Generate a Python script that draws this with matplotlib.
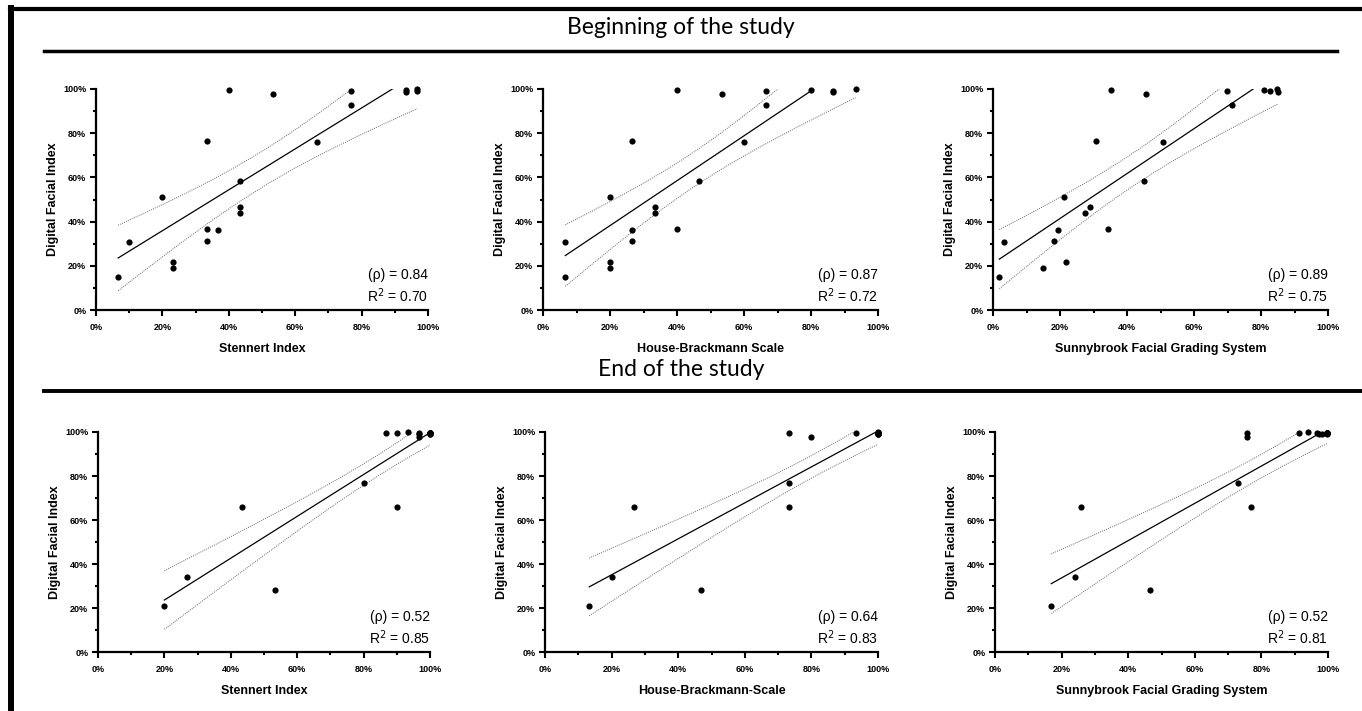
import numpy as np
import matplotlib
matplotlib.use("Agg")
import matplotlib.pyplot as plt
from matplotlib.ticker import MultipleLocator, FuncFormatter
from matplotlib.lines import Line2D
from matplotlib.font_manager import FontProperties

# ---------------- data ----------------
# Beginning of the study (21 patients)
dfi_begin = [15.1, 30.9, 51.1, 21.9, 19.2, 76.5, 36.8, 31.1, 36.3, 99.5, 58.4,
             46.5, 43.7, 97.9, 76.2, 99.2, 92.9, 99.5, 98.5, 99.8, 99.3]
stennert_begin = [6.67, 10.0, 20.0, 23.3, 23.3, 33.3, 33.3, 33.3, 36.7, 40.0, 43.3,
                  43.3, 43.3, 53.3, 66.7, 76.7, 76.7, 93.3, 93.3, 96.7, 96.7]
hb_begin = [6.67, 6.67, 20.0, 20.0, 20.0, 26.7, 40.0, 26.7, 26.7, 40.0, 46.7,
            33.3, 33.3, 53.3, 60.0, 66.7, 66.7, 80.0, 86.7, 93.3, 86.7]
sb_begin = [1.9, 3.2, 21.1, 21.8, 14.9, 30.7, 34.4, 18.2, 19.4, 35.3, 45.0,
            29.1, 27.4, 45.7, 50.7, 69.9, 71.2, 81.0, 85.2, 84.7, 82.7]

# End of the study (21 patients; several overlap in the top-right corner)
dfi_end = [21.1, 34.3, 66.0, 28.1, 76.7, 66.0, 99.7, 97.7, 99.7, 100.0, 99.7, 99.2, 99.2, 99.2,
           99.5, 99.5, 99.5, 99.5, 99.5, 99.5, 99.5]
stennert_end = [20.0, 26.7, 43.3, 53.3, 80.0, 90.0, 86.7, 96.7, 90.0, 93.3, 96.7, 100.0, 96.7, 100.0,
                100.0, 100.0, 100.0, 100.0, 100.0, 100.0, 100.0]
hb_end = [13.3, 20.0, 26.7, 46.7, 73.3, 73.3, 73.3, 80.0, 93.3, 100.0, 100.0, 100.0, 100.0, 100.0,
          100.0, 100.0, 100.0, 100.0, 100.0, 100.0, 100.0]
sb_end = [16.9, 24.1, 25.9, 46.4, 72.9, 76.9, 75.7, 75.7, 91.3, 94.0, 96.7, 97.2, 98.2, 99.7,
          99.7, 99.7, 99.7, 99.7, 99.7, 99.7, 99.7]

rho_begin = ["0.84", "0.87", "0.89"]
r2_begin = ["0.70", "0.72", "0.75"]
rho_end = ["0.52", "0.64", "0.52"]
r2_end = ["0.85", "0.83", "0.81"]

xlabels_begin = ["Stennert Index", "House-Brackmann Scale", "Sunnybrook Facial Grading System"]
xlabels_end = ["Stennert Index", "House-Brackmann-Scale", "Sunnybrook Facial Grading System"]
ylabel = "Digital Facial Index"
titles = ["Beginning of the study", "End of the study"]

T95 = {10: 2.228, 11: 2.201, 12: 2.179, 13: 2.160, 19: 2.093, 20: 2.086}

# ---------------- figure ----------------
W, H = 1362, 711
fig = plt.figure(figsize=(W / 100, H / 100), dpi=100)
fig.patch.set_facecolor("white")

def box(l, r, t, b):
    return [l / W, 1 - b / H, (r - l) / W, (b - t) / H]

top_boxes = [box(96, 428, 89, 310), box(543, 878, 89, 310), box(993, 1328, 89, 310)]
bot_boxes = [box(98, 430, 432, 652), box(545, 878, 432, 652), box(995, 1328, 432, 652)]

pct = FuncFormatter(lambda v, p: f"{int(round(v))}%")
tick_fp = FontProperties(family="Liberation Sans", weight="bold", size=6.5)

def panel(rect, x, y, xl, rho, r2):
    ax = fig.add_axes(rect)
    x = np.asarray(x, float)
    y = np.asarray(y, float)
    ax.set_xlim(0, 100)
    ax.set_ylim(0, 100)
    for s in ("top", "right"):
        ax.spines[s].set_visible(False)
    for s in ("left", "bottom"):
        ax.spines[s].set_linewidth(1.6)
    ax.xaxis.set_major_locator(MultipleLocator(20))
    ax.xaxis.set_minor_locator(MultipleLocator(10))
    ax.yaxis.set_major_locator(MultipleLocator(20))
    ax.yaxis.set_minor_locator(MultipleLocator(10))
    ax.xaxis.set_major_formatter(pct)
    ax.yaxis.set_major_formatter(pct)
    ax.tick_params(which="major", length=4, width=1.5, pad=3)
    ax.tick_params(axis="x", which="major", pad=5.5)
    ax.tick_params(which="minor", length=2.5, width=1.5)
    for lab in ax.get_xticklabels() + ax.get_yticklabels():
        lab.set_fontproperties(tick_fp)
    ax.set_xlabel(xl, family="Liberation Sans", weight="bold", size=9, labelpad=8)
    ax.set_ylabel(ylabel, family="Liberation Sans", weight="bold", size=9, labelpad=3)

    # linear regression with 95% confidence band
    n = len(x)
    slope, inter = np.polyfit(x, y, 1)
    xs = np.linspace(x.min(), x.max(), 200)
    yhat = slope * xs + inter
    resid = y - (slope * x + inter)
    s = np.sqrt(np.sum(resid ** 2) / (n - 2))
    sxx = np.sum((x - x.mean()) ** 2)
    se = s * np.sqrt(1.0 / n + (xs - x.mean()) ** 2 / sxx)
    t = T95.get(n - 2, 2.1)
    ax.plot(xs, yhat, color="black", lw=0.9)
    ax.plot(xs, yhat + t * se, color="#666666", lw=0.7, ls=(0, (1, 1.2)))
    ax.plot(xs, yhat - t * se, color="#666666", lw=0.7, ls=(0, (1, 1.2)))
    ax.scatter(x, y, s=20, color="black", zorder=5, clip_on=False, linewidths=0)

    ax.text(1.0, 0.158, f"(\u03c1) = {rho}", transform=ax.transAxes, ha="right", va="center",
            family="Liberation Sans", size=10)
    ax.text(1.0, 0.063, f"R$^2$ = {r2}", transform=ax.transAxes, ha="right", va="center",
            family="Liberation Sans", size=10)
    return ax

for rect, xv, xl, rho, r2 in zip(top_boxes, [stennert_begin, hb_begin, sb_begin],
                                 xlabels_begin, rho_begin, r2_begin):
    panel(rect, xv, dfi_begin, xl, rho, r2)
for rect, xv, xl, rho, r2 in zip(bot_boxes, [stennert_end, hb_end, sb_end],
                                 xlabels_end, rho_end, r2_end):
    panel(rect, xv, dfi_end, xl, rho, r2)

# titles and separator lines
fig.text(681 / W, 1 - 27 / H, titles[0], ha="center", va="center", family="Lato", size=16.5)
fig.text(681 / W, 1 - 369 / H, titles[1], ha="center", va="center", family="Lato", size=16.5)
fig.add_artist(Line2D([44 / W, 1337 / W], [1 - 51 / H, 1 - 51 / H], color="black", lw=2.5))
fig.add_artist(Line2D([44 / W, 1362 / W], [1 - 391 / H, 1 - 391 / H], color="black", lw=2.8))
# outer frame (top and left)
fig.add_artist(Line2D([10 / W, 1], [1 - 9 / H, 1 - 9 / H], color="black", lw=3))
fig.add_artist(Line2D([11 / W, 11 / W], [0, 1 - 7.5 / H], color="black", lw=4.3))

fig.savefig("out.png", dpi=100, facecolor="white")
